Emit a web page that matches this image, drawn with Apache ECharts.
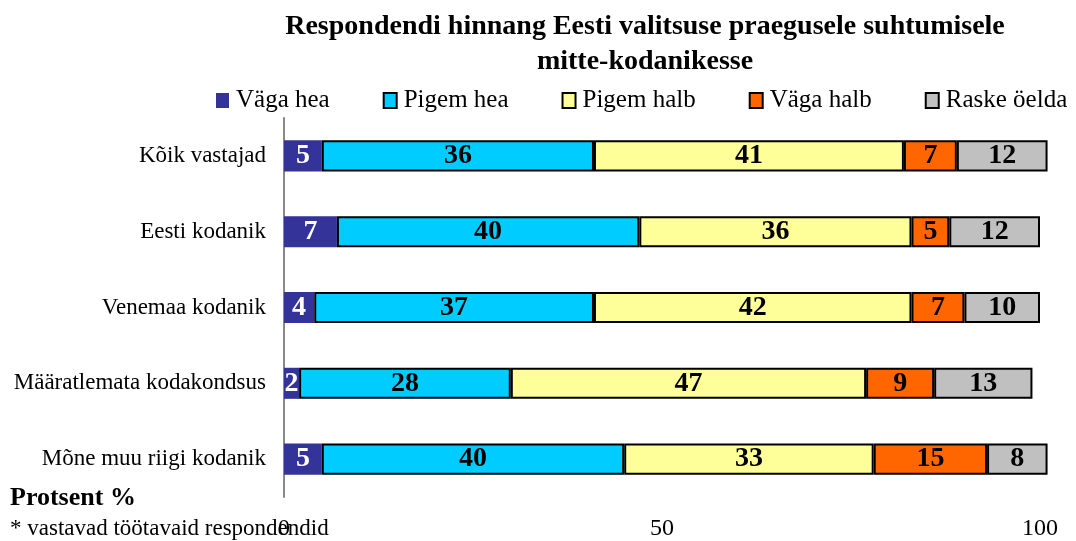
<!DOCTYPE html>
<html>
<head>
<meta charset="utf-8">
<script src="https://cdn.jsdelivr.net/npm/echarts@6/dist/echarts.min.js"></script>
<style>
  html, body { margin: 0; padding: 0; background: #fff; }
  #chart { width: 1076px; height: 541px; }
</style>
</head>
<body>
<div id="chart"></div>
<script>
const categories = ['Kõik vastajad', 'Eesti kodanik', 'Venemaa kodanik', 'Määratlemata kodakondsus', 'Mõne muu riigi kodanik']
const seriesNames = ['Väga hea', 'Pigem hea', 'Pigem halb', 'Väga halb', 'Raske öelda']
const vagaHea = [5, 7, 4, 2, 5]
const pigemHea = [36, 40, 37, 28, 40]
const pigemHalb = [41, 36, 42, 47, 33]
const vagaHalb = [7, 5, 7, 9, 15]
const raskeOelda = [12, 12, 10, 13, 8]
const xTicks = [0, 50, 100]

const colors = ['#333399', '#00CCFF', '#FFFF99', '#FF6600', '#C0C0C0']
const values = [vagaHea, pigemHea, pigemHalb, vagaHalb, raskeOelda]
const serif = '"Liberation Serif", "DejaVu Serif", serif'

const chart = echarts.init(document.getElementById('chart'))

const series = seriesNames.map((name, i) => ({
  name,
  type: 'bar',
  stack: 'total',
  clip: false,
  barCategoryGap: '59%',
  data: values[i],
  itemStyle: {
    color: colors[i],
    borderColor: i === 0 ? colors[i] : '#000',
    borderWidth: i === 0 ? 0 : 2
  },
  label: {
    show: true,
    position: 'inside',
    fontFamily: serif,
    fontWeight: 'bold',
    fontSize: 28,
    color: i === 0 ? '#fff' : '#000'
  }
}))

chart.setOption({
  animation: false,
  textStyle: { fontFamily: serif },
  title: {
    text: 'Respondendi hinnang Eesti valitsuse praegusele suhtumisele\nmitte-kodanikesse',
    left: 640,
    textAlign: 'center',
    top: 4,
    textStyle: { fontFamily: serif, fontWeight: 'bold', fontSize: 28, lineHeight: 35, color: '#000' }
  },
  legend: {
    left: 211,
    top: 83,
    icon: 'rect',
    itemWidth: 13,
    itemHeight: 15,
    itemGap: 53,
    textStyle: { fontFamily: serif, fontSize: 25, color: '#000', padding: [0, 0, 0, 2] },
    data: seriesNames
  },
  grid: { left: 284, right: 36, top: 118, bottom: 44 },
  xAxis: {
    type: 'value',
    min: 0,
    max: 100,
    interval: 50,
    axisLine: { show: false },
    axisTick: { show: false },
    splitLine: { show: false },
    axisLabel: {
      fontFamily: serif,
      fontSize: 24,
      color: '#000',
      margin: 20,
      formatter: v => xTicks.includes(v) ? String(v) : ''
    }
  },
  yAxis: {
    type: 'category',
    inverse: true,
    data: categories,
    axisLine: { lineStyle: { color: '#888', width: 2 } },
    axisTick: { length: 6, lineStyle: { color: '#888', width: 2 } },
    axisLabel: { fontFamily: serif, fontSize: 23, color: '#000', margin: 18 }
  },
  graphic: [
    {
      type: 'text',
      left: 10,
      top: 485,
      style: { text: 'Protsent %', font: 'bold 26px "Liberation Serif", serif', fill: '#000' }
    },
    {
      type: 'text',
      left: 10,
      top: 517,
      style: { text: '* vastavad töötavaid respondendid', font: '23px "Liberation Serif", serif', fill: '#000' }
    }
  ],
  series
})

window.addEventListener('resize', () => chart.resize())
</script>
</body>
</html>
